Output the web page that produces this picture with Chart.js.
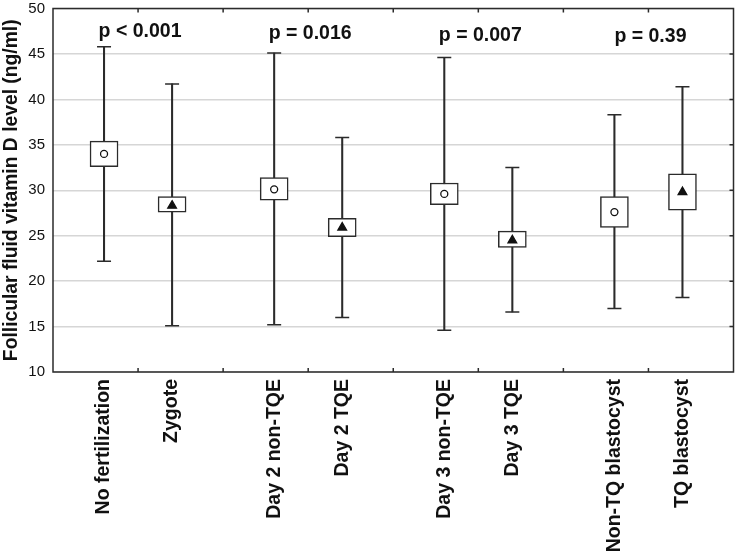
<!DOCTYPE html>
<html>
<head>
<meta charset="utf-8">
<script src="https://cdn.jsdelivr.net/npm/chart.js@4"></script>
<style>
  body { margin: 0; background: #fff; }
  canvas { display: block; }
</style>
</head>
<body>
<canvas id="vitDChart" width="742" height="554"></canvas>
<script>
// Groups (ng/ml)
const labels = ['No fertilization', 'Zygote', 'Day 2 non-TQE', 'Day 2 TQE',
                'Day 3 non-TQE', 'Day 3 TQE', 'Non-TQ blastocyst', 'TQ blastocyst'];
const meanVals   = [34.0, 28.3, 30.1, 25.9, 29.6, 24.5, 27.6, 29.8];
const boxLow     = [32.6, 27.6, 28.9, 24.9, 28.4, 23.7, 25.9, 27.8];
const boxHigh    = [35.4, 29.3, 31.4, 26.9, 30.8, 25.5, 29.3, 31.8];
const whiskerMin = [22.2, 15.1, 15.2, 16.0, 14.6, 16.6, 17.0, 18.2];
const whiskerMax = [45.8, 41.7, 45.1, 35.8, 44.6, 32.5, 38.3, 41.4];
const pValues = ['p < 0.001', 'p = 0.016', 'p = 0.007', 'p = 0.39'];
const pLabelY = [46.9, 46.6, 46.4, 46.3];
const yTicks = [10, 15, 20, 25, 30, 35, 40, 45, 50];

// each pair sits around an odd boundary of the 8-slot axis
const xPos = labels.map((_, i) => 2 * Math.floor(i / 2) + 1 + (i % 2 ? 0.4 : -0.4));
const ink = '#2b2b2b';
const font = '"Liberation Sans", Arial, sans-serif';

const frame = {
  id: 'frame',
  afterDatasetsDraw(chart) {
    const { ctx, chartArea: a, scales } = chart;
    ctx.save();
    ctx.strokeStyle = ink;
    ctx.lineWidth = 1.5;
    ctx.beginPath();
    // inner tick marks, x at slot boundaries, y on the right side
    for (let b = 1; b < 8; b++) {
      const px = scales.x.getPixelForValue(b);
      ctx.moveTo(px, a.bottom); ctx.lineTo(px, a.bottom - 4);
      ctx.moveTo(px, a.top); ctx.lineTo(px, a.top + 4);
    }
    yTicks.slice(1, -1).forEach(v => {
      const py = scales.y.getPixelForValue(v);
      ctx.moveTo(a.right, py); ctx.lineTo(a.right - 4, py);
    });
    ctx.stroke();
    ctx.strokeRect(a.left, a.top, a.right - a.left, a.bottom - a.top);
    // p values above each pair
    ctx.fillStyle = '#111';
    ctx.font = 'bold 19.5px ' + font;
    ctx.textAlign = 'center';
    ctx.textBaseline = 'alphabetic';
    pValues.forEach((t, g) => {
      ctx.fillText(t, scales.x.getPixelForValue(2 * g + 1) + 2, scales.y.getPixelForValue(pLabelY[g]));
    });
    ctx.restore();
  }
};

const pts = arr => arr.map((v, i) => ({ x: xPos[i], y: v }));

new Chart(document.getElementById('vitDChart'), {
  type: 'bar',
  data: {
    datasets: [
      {
        // whisker stems
        data: labels.map((_, i) => ({ x: xPos[i], y: [whiskerMin[i], whiskerMax[i]] })),
        backgroundColor: ink,
        borderWidth: 0,
        barThickness: 1.4,
        grouped: false,
        order: 4
      },
      {
        // boxes
        data: labels.map((_, i) => ({ x: xPos[i], y: [boxLow[i], boxHigh[i]] })),
        backgroundColor: '#fff',
        borderColor: ink,
        borderWidth: 1.5,
        borderSkipped: false,
        barThickness: 28,
        grouped: false,
        order: 3
      },
      {
        type: 'scatter',
        data: pts(whiskerMax).concat(pts(whiskerMin)),
        pointStyle: 'line',
        radius: 7,
        borderColor: ink,
        borderWidth: 1.5,
        order: 2
      },
      {
        type: 'scatter',
        data: pts(meanVals),
        pointStyle: meanVals.map((_, i) => i % 2 ? 'triangle' : 'circle'),
        radius: meanVals.map((_, i) => i % 2 ? 5 : 3.5),
        backgroundColor: meanVals.map((_, i) => i % 2 ? '#111' : '#fff'),
        borderColor: '#111',
        borderWidth: 1.3,
        order: 1
      }
    ]
  },
  options: {
    responsive: false,
    animation: false,
    layout: { padding: { top: 7, right: 1, left: 0, bottom: 0 } },
    plugins: { legend: { display: false }, tooltip: { enabled: false } },
    scales: {
      x: {
        type: 'linear',
        min: 0,
        max: 8,
        offset: false,
        afterBuildTicks: axis => { axis.ticks = xPos.map(v => ({ value: v })); },
        afterFit: axis => { axis.height = 182; axis.paddingLeft = 0; axis.paddingRight = 0; },
        grid: { display: false, offset: false },
        border: { display: false },
        ticks: {
          autoSkip: false,
          minRotation: 90,
          maxRotation: 90,
          padding: -1,
          color: '#111',
          font: { family: font, size: 19.5, weight: 'bold' },
          callback: (v, i) => labels[i]
        }
      },
      y: {
        min: 10,
        max: 50,
        afterBuildTicks: axis => { axis.ticks = yTicks.map(v => ({ value: v })); },
        afterFit: axis => { axis.width = 53; axis.paddingTop = 0; axis.paddingBottom = 0; },
        grid: { color: '#d6d6d6', lineWidth: 1.5, drawTicks: false },
        border: { display: false },
        ticks: {
          padding: 8,
          color: '#111',
          font: { family: font, size: 15 }
        },
        title: {
          display: true,
          text: 'Follicular fluid vitamin D level (ng/ml)',
          color: '#111',
          padding: { top: 0, bottom: 0 },
          font: { family: font, size: 19.3, weight: 'bold' }
        }
      }
    }
  },
  plugins: [frame]
});
</script>
</body>
</html>
